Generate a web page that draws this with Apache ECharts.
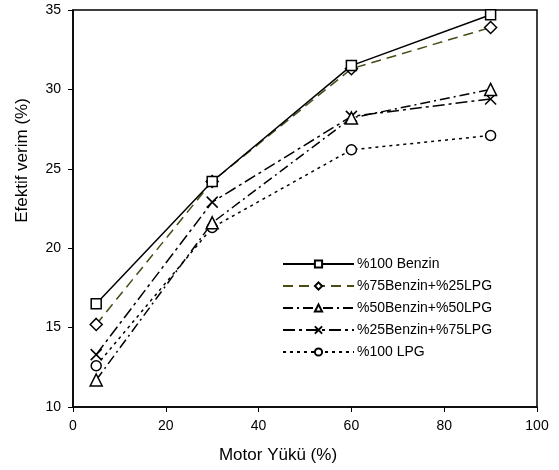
<!DOCTYPE html>
<html><head><meta charset="utf-8">
<script src="https://cdn.jsdelivr.net/npm/echarts@6/dist/echarts.min.js"></script>
<style>html,body{margin:0;padding:0;background:#fff}#c{width:559px;height:470px}</style>
</head><body><div id="c"></div>
<script>
const loads = [5, 30, 60, 90];
const benzin100 = [16.5, 24.2, 31.5, 34.7];
const b75lpg25 = [15.2, 24.2, 31.3, 33.9];
const b50lpg50 = [11.7, 21.6, 28.2, 30.0];
const b25lpg75 = [13.3, 22.9, 28.3, 29.4];
const lpg100 = [12.6, 21.3, 26.2, 27.1];
const names = ['%100 Benzin', '%75Benzin+%25LPG', '%50Benzin+%50LPG', '%25Benzin+%75LPG', '%100 LPG'];
const xTicks = [0, 20, 40, 60, 80, 100];
const yTicks = [10, 15, 20, 25, 30, 35];

const font = 'Liberation Sans, Arial, sans-serif';
const pair = (arr) => loads.map((x, i) => [x, arr[i]]);
const xPath = 'path://M0,0L10,10M10,0L0,10';
const styles = [
  {data: benzin100, symbol: 'rect', size: 10, color: '#000', type: 'solid'},
  {data: b75lpg25, symbol: 'diamond', size: 12, color: '#4a4a16', type: [10, 6]},
  {data: b50lpg50, symbol: 'triangle', size: 12, color: '#000', type: [10, 4, 2, 4]},
  {data: b25lpg75, symbol: xPath, size: 11, color: '#000', type: [12, 4, 3, 4]},
  {data: lpg100, symbol: 'circle', size: 10, color: '#000', type: [3, 4]}
];
const chart = echarts.init(document.getElementById('c'), null, {renderer: 'canvas'});
chart.setOption({
  animation: false,
  backgroundColor: '#fff',
  grid: {left: 73, right: 22, top: 10, bottom: 63, show: true, borderColor: '#000', borderWidth: 1.5},
  xAxis: {
    type: 'value', min: xTicks[0], max: xTicks[xTicks.length - 1], interval: 20,
    name: 'Motor Yükü (%)', nameLocation: 'middle', nameGap: 40,
    nameTextStyle: {fontFamily: font, fontSize: 17, color: '#000', padding: [0, 54, 0, 0]},
    axisLine: {show: true, lineStyle: {color: '#000', width: 1.5}},
    axisTick: {show: true, length: 5, lineStyle: {color: '#000'}},
    axisLabel: {fontFamily: font, fontSize: 14, color: '#000', margin: 12},
    splitLine: {show: false}
  },
  yAxis: {
    type: 'value', min: yTicks[0], max: yTicks[yTicks.length - 1], interval: 5,
    name: 'Efektif verim (%)', nameLocation: 'middle', nameGap: 42,
    nameTextStyle: {fontFamily: font, fontSize: 17, color: '#000', padding: [0, 0, 0, 96]},
    axisLine: {show: true, lineStyle: {color: '#000', width: 1.5}},
    axisTick: {show: true, length: 5, lineStyle: {color: '#000'}},
    axisLabel: {fontFamily: font, fontSize: 14, color: '#000', margin: 12},
    splitLine: {show: false}
  },
  legend: {
    orient: 'vertical', left: 277, top: 252,
    itemWidth: 71, itemHeight: 9, itemGap: 8,
    textStyle: {fontFamily: font, fontSize: 14, color: '#000', padding: [0, 0, 0, -2]},
    data: names
  },
  series: styles.map((s, i) => ({
    name: names[i], type: 'line', data: pair(s.data),
    symbol: s.symbol, symbolSize: s.size,
    lineStyle: {color: s.color, width: 1.5, type: s.type},
    itemStyle: {color: '#fff', borderColor: '#000', borderWidth: 1.5},
    z: 10 - i
  }))
});
</script></body></html>
